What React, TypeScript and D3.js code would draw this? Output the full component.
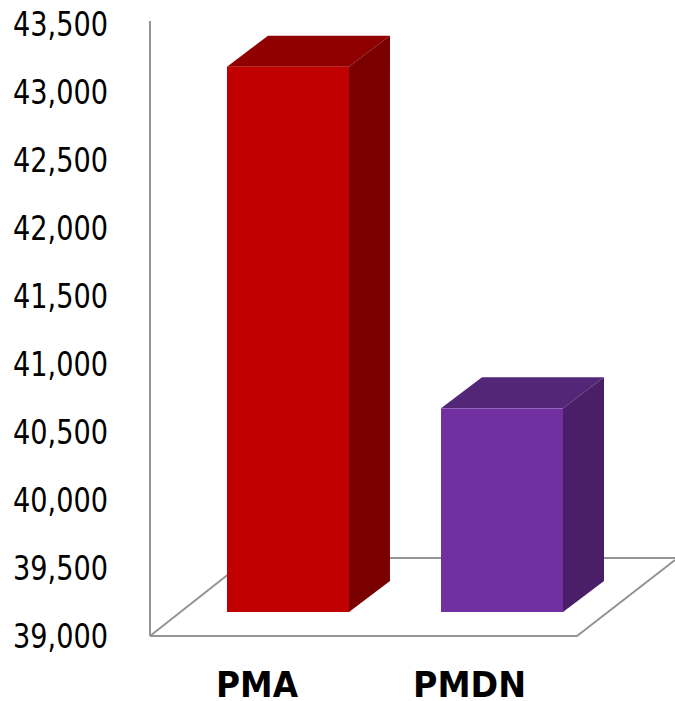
import React from "react";
import * as d3 from "d3";

const categories = ["PMA", "PMDN"];
const values = [42990, 40490];
const frontColors = ["#C00000", "#7030A0"];
const topColors = ["#900000", "#542678"];
const sideColors = ["#7A0000", "#4A1F68"];
const tickValues = [39000, 39500, 40000, 40500, 41000, 41500, 42000, 42500, 43000, 43500];
const categoryLabelX = [257, 469.5];
const categoryLabelWidth = [82, 113];

const W = 675;
const H = 701;
const DX = 41;
const DY = 31;
const GRAY = "#949494";

const x = d3.scaleBand<string>().domain(categories).range([227, 563]).paddingInner(0.43).paddingOuter(0);
const yBar = d3.scaleLinear().domain([39000, 43500]).range([612, -3]);
const yLabel = d3.scaleLinear().domain([39000, 43500]).range([636, 24]);
const fmt = d3.format(",");

const poly = (pts: [number, number][]) => d3.line()(pts) + "Z";

export default function App() {
  const font = "DejaVu Sans, Verdana, sans-serif";
  return (
    <svg width={W} height={H} viewBox={`0 0 ${W} ${H}`} style={{ position: "absolute", left: 0, top: 0, background: "#fff" }}>
      <g stroke={GRAY} strokeWidth={2} fill="none">
        <line x1={150} y1={21} x2={150} y2={636} />
        <path d="M150,636 L577,636 L675,560" />
        <line x1={150} y1={636} x2={249} y2={558} />
        <line x1={249} y1={558} x2={675} y2={558} />
      </g>
      {categories.map((c, i) => {
        const x0 = x(c) as number;
        const x1 = x0 + x.bandwidth();
        const yT = yBar(values[i]);
        const yB = yBar(39000);
        return (
          <g key={c}>
            <path d={poly([[x0, yT], [x0 + DX, yT - DY], [x1 + DX, yT - DY], [x1, yT]])} fill={topColors[i]} />
            <path d={poly([[x1, yT], [x1 + DX, yT - DY], [x1 + DX, yB - DY], [x1, yB]])} fill={sideColors[i]} />
            <rect x={x0} y={yT} width={x.bandwidth()} height={yB - yT} fill={frontColors[i]} />
          </g>
        );
      })}
      {tickValues.map((t) => (
        <text key={t} x={108} y={yLabel(t)} dy="0.36em" textAnchor="end" fontFamily={font} fontSize={33.5} fill="#000"
          textLength={95} lengthAdjust="spacingAndGlyphs">{fmt(t)}</text>
      ))}
      {categories.map((c, i) => (
        <text key={c} x={categoryLabelX[i]} y={697} textAnchor="middle" fontFamily={font} fontWeight="bold" fontSize={36} fill="#000"
          textLength={categoryLabelWidth[i]} lengthAdjust="spacingAndGlyphs">{c}</text>
      ))}
    </svg>
  );
}
